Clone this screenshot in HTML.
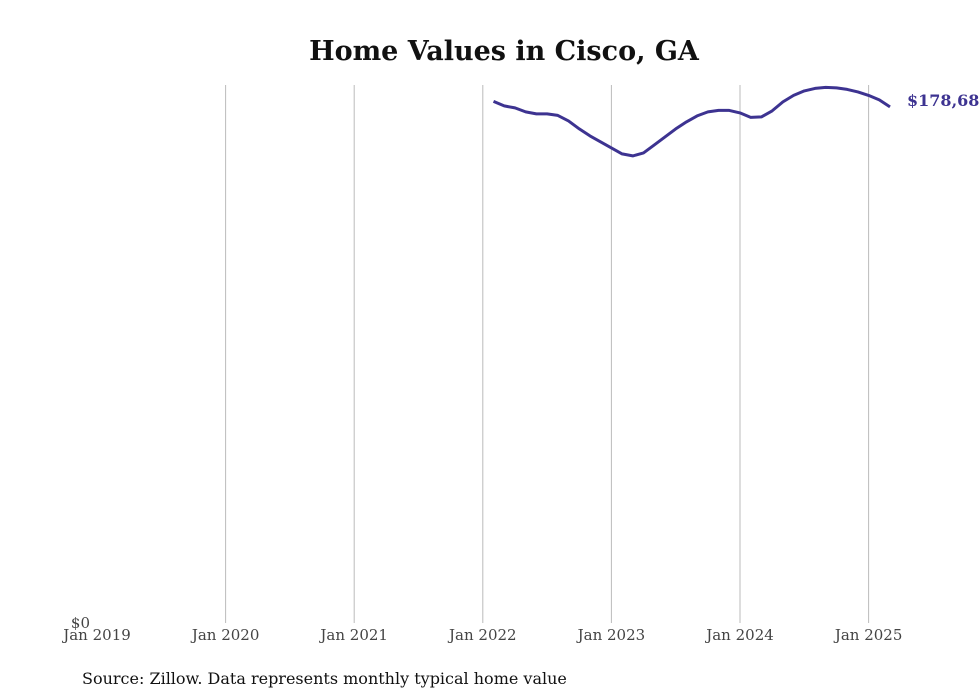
<!DOCTYPE html>
<html><head><meta charset="utf-8"><style>
html,body{margin:0;padding:0;background:#fff;}
svg{display:block;font-family:"DejaVu Serif","Liberation Serif",serif;}
</style></head><body>
<svg id="chart" width="980" height="699">
<text x="504" y="60" text-anchor="middle" font-size="27" font-weight="bold" fill="#111">Home Values in Cisco, GA</text>
<g id="grid"></g>
<g id="xticks"></g>
<text x="90" y="628" text-anchor="end" font-size="15" fill="#444">$0</text>
<path id="line" fill="none" stroke="#3d3391" stroke-width="3" stroke-linejoin="round"></path>
<text id="endlabel" font-size="16" font-weight="bold" fill="#3d3391"></text>
<text x="82" y="684" font-size="16" fill="#111">Source: Zillow. Data represents monthly typical home value</text>
</svg>
<script>
const tickLabels=["Jan 2019","Jan 2020","Jan 2021","Jan 2022","Jan 2023","Jan 2024","Jan 2025"];
const startMonthIndex=37; // Feb 2022 (months since Jan 2019)
const values=[180596,179037,178344,176959,176267,176267,175747,173843,171072,168648,166570,164493,162415,161722,162761,165531,168302,171072,173496,175574,176959,177479,177479,176613,175055,175228,177306,180422,182673,184232,185097,185443,185271,184751,183885,182673,181115,178689];
const x=m=>97+m*(128.6/12);
const y=v=>623-v*0.002888;
const ns="http://www.w3.org/2000/svg";
const grid=document.getElementById('grid'),xt=document.getElementById('xticks');
tickLabels.forEach((t,i)=>{
  const px=x(i*12);
  if(i>0){const l=document.createElementNS(ns,'line');
  
  
  l.setAttribute('x1',px);l.setAttribute('x2',px);l.setAttribute('y1',85);l.setAttribute('y2',623);
  l.setAttribute('stroke','#bbb');l.setAttribute('stroke-width','1');grid.appendChild(l);}
  const tx=document.createElementNS(ns,'text');
  
  
  tx.setAttribute('x',px);tx.setAttribute('y',640);tx.setAttribute('text-anchor','middle');
  tx.setAttribute('font-size','15');tx.setAttribute('fill','#444');tx.textContent=t;xt.appendChild(tx);
});
document.getElementById('line').setAttribute('d',values.map((v,i)=>(i?'L':'M')+x(startMonthIndex+i).toFixed(1)+','+y(v).toFixed(1)).join(''));
const last=values[values.length-1],el=document.getElementById('endlabel');
el.setAttribute('x',x(startMonthIndex+values.length-1)+17);
el.setAttribute('y',y(last)-1);
el.textContent='$'+last.toLocaleString('en-US');
</script>
</body></html>
